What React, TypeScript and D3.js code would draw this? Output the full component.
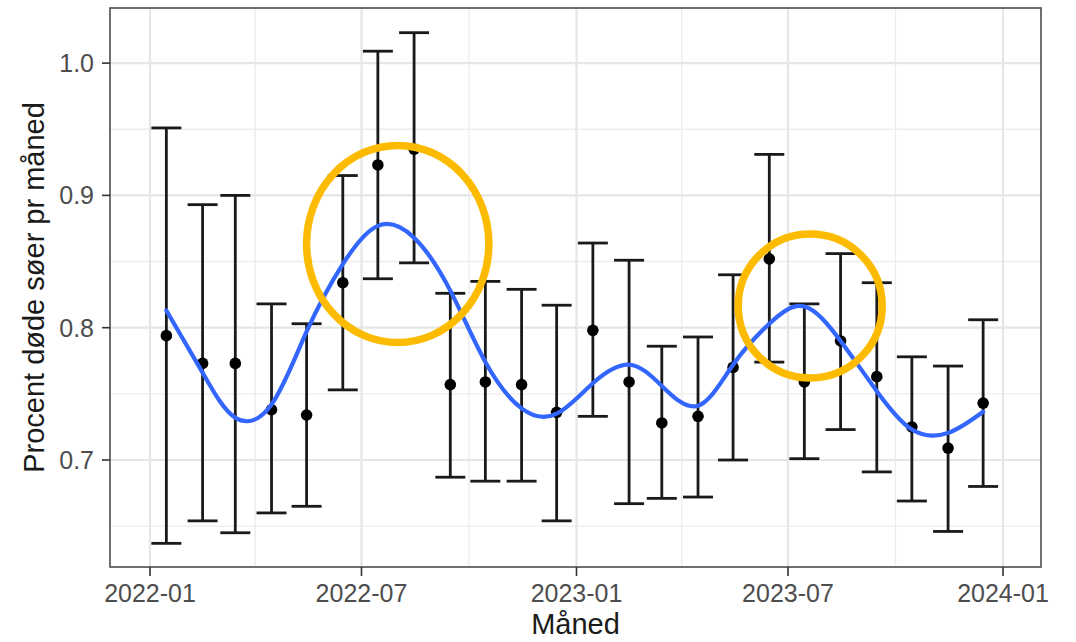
import React from "react";
import * as d3 from "d3";

// ---- Data ----
const months: string[] = [
  "2022-01-15", "2022-02-15", "2022-03-15", "2022-04-15", "2022-05-15", "2022-06-15",
  "2022-07-15", "2022-08-15", "2022-09-15", "2022-10-15", "2022-11-15", "2022-12-15",
  "2023-01-15", "2023-02-15", "2023-03-15", "2023-04-15", "2023-05-15", "2023-06-15",
  "2023-07-15", "2023-08-15", "2023-09-15", "2023-10-15", "2023-11-15", "2023-12-15",
];
const meanPct: number[] = [
  0.794, 0.773, 0.773, 0.738, 0.734, 0.834,
  0.923, 0.935, 0.757, 0.759, 0.757, 0.736,
  0.798, 0.759, 0.728, 0.733, 0.770, 0.852,
  0.759, 0.790, 0.763, 0.725, 0.709, 0.743,
];
const lowerPct: number[] = [
  0.637, 0.654, 0.645, 0.660, 0.665, 0.753,
  0.837, 0.849, 0.687, 0.684, 0.684, 0.654,
  0.733, 0.667, 0.671, 0.672, 0.700, 0.774,
  0.701, 0.723, 0.691, 0.669, 0.646, 0.680,
];
const upperPct: number[] = [
  0.951, 0.893, 0.900, 0.818, 0.803, 0.915,
  1.009, 1.023, 0.826, 0.835, 0.829, 0.817,
  0.864, 0.851, 0.786, 0.793, 0.840, 0.931,
  0.818, 0.856, 0.834, 0.778, 0.771, 0.806,
];

// Smooth trend (blue curve) at each month
const smoothValues: number[] = [
  0.813, 0.766, 0.732, 0.742, 0.797, 0.848,
  0.877, 0.868, 0.828, 0.774, 0.739, 0.735,
  0.758, 0.772, 0.756, 0.741, 0.772, 0.803,
  0.816, 0.790, 0.752, 0.723, 0.7205, 0.7365,
];

// Axis ticks
const xTickDates: string[] = ["2022-01-01", "2022-07-01", "2023-01-01", "2023-07-01", "2024-01-01"];
const xTickLabels: string[] = ["2022-01", "2022-07", "2023-01", "2023-07", "2024-01"];
const xMinorDates: string[] = ["2022-04-01", "2022-10-01", "2023-04-01", "2023-10-01"];
const yTicks: number[] = [0.7, 0.8, 0.9, 1.0];
const yTickLabels: string[] = ["0.7", "0.8", "0.9", "1.0"];
const yMinor: number[] = [0.65, 0.75, 0.85, 0.95];

// Highlight annotations (center date, center value, radius in days, radius in value)
const highlightCenters: string[] = ["2022-08-01", "2023-07-20"];
const highlightValues: number[] = [0.8633, 0.8164];
const highlightRadiusDays: number[] = [78, 61.6];
const highlightRadiusValue: number[] = [0.0745, 0.0544];

const xTitle = "Måned";
const yTitle = "Procent døde søer pr måned";

const parse = d3.utcParse("%Y-%m-%d");

export default function App() {
  const W = 1076;
  const H = 642;
  const left = 110, right = 1041, top = 8, bottom = 567;

  const d0 = parse("2022-01-01")!.getTime();
  const d1 = parse("2024-01-01")!.getTime();
  const pxPerMs = (1003 - 150) / (d1 - d0);
  const x = d3
    .scaleUtc()
    .domain([new Date(d0 - (150 - left) / pxPerMs), new Date(d0 + (right - 150) / pxPerMs)])
    .range([left, right]);

  const y = d3
    .scaleLinear()
    .domain([0.7 - (bottom - 460) / 1323, 0.7 + (460 - top) / 1323])
    .range([bottom, top]);

  const font = "'Liberation Sans', Arial, Helvetica, sans-serif";

  const line = d3
    .line<[Date, number]>()
    .x((d) => x(d[0]))
    .y((d) => y(d[1]))
    .curve(d3.curveNatural);
  const smoothPts: [Date, number][] = months.map((s, i) => [parse(s)!, smoothValues[i]]);

  const capHalf = 15;
  const dayMs = 86400000;

  return (
    <svg
      width={W}
      height={H}
      style={{ position: "absolute", left: 0, top: 0, background: "#fff" }}
      fontFamily={font}
    >
      <rect x={0} y={0} width={W} height={H} fill="#fff" />
      {/* minor grid */}
      {xMinorDates.map((s) => (
        <line key={"xm" + s} x1={x(parse(s)!)} x2={x(parse(s)!)} y1={top} y2={bottom} stroke="#ededed" strokeWidth={1.4} />
      ))}
      {yMinor.map((v) => (
        <line key={"ym" + v} x1={left} x2={right} y1={y(v)} y2={y(v)} stroke="#ededed" strokeWidth={1.4} />
      ))}
      {/* major grid */}
      {xTickDates.map((s) => (
        <line key={"xg" + s} x1={x(parse(s)!)} x2={x(parse(s)!)} y1={top} y2={bottom} stroke="#e6e6e6" strokeWidth={2.2} />
      ))}
      {yTicks.map((v) => (
        <line key={"yg" + v} x1={left} x2={right} y1={y(v)} y2={y(v)} stroke="#e6e6e6" strokeWidth={2.2} />
      ))}

      {/* error bars */}
      {months.map((s, i) => {
        const cx = x(parse(s)!);
        return (
          <g key={"eb" + s} stroke="#1a1a1a" strokeWidth={2.8}>
            <line x1={cx} x2={cx} y1={y(lowerPct[i])} y2={y(upperPct[i])} />
            <line x1={cx - capHalf} x2={cx + capHalf} y1={y(lowerPct[i])} y2={y(lowerPct[i])} />
            <line x1={cx - capHalf} x2={cx + capHalf} y1={y(upperPct[i])} y2={y(upperPct[i])} />
          </g>
        );
      })}
      {/* points */}
      {months.map((s, i) => (
        <circle key={"pt" + s} cx={x(parse(s)!)} cy={y(meanPct[i])} r={5.8} fill="#000" />
      ))}

      {/* smooth line */}
      <path d={line(smoothPts) || ""} fill="none" stroke="#3366FF" strokeWidth={4.2} strokeLinecap="round" />

      {/* highlight ellipses */}
      {highlightCenters.map((s, i) => {
        const c = parse(s)!;
        const cx = x(c);
        const rx = x(new Date(c.getTime() + highlightRadiusDays[i] * dayMs)) - cx;
        const cy = y(highlightValues[i]);
        const ry = y(highlightValues[i] - highlightRadiusValue[i]) - cy;
        return <ellipse key={"hl" + s} cx={cx} cy={cy} rx={rx} ry={ry} fill="none" stroke="#FDBB00" strokeWidth={7.5} />;
      })}

      {/* panel border */}
      <rect x={left} y={top} width={right - left} height={bottom - top} fill="none" stroke="#4d4d4d" strokeWidth={1.6} />

      {/* x axis */}
      {xTickDates.map((s, i) => {
        const px = x(parse(s)!);
        return (
          <g key={"xt" + s}>
            <line x1={px} x2={px} y1={bottom} y2={bottom + 9} stroke="#333" strokeWidth={1.6} />
            <text x={px} y={602} textAnchor="middle" fontSize={25} fill="#4d4d4d">
              {xTickLabels[i]}
            </text>
          </g>
        );
      })}
      {/* y axis */}
      {yTicks.map((v, i) => (
        <g key={"yt" + v}>
          <line x1={left - 8} x2={left} y1={y(v)} y2={y(v)} stroke="#333" strokeWidth={1.6} />
          <text x={94} y={y(v)} dy="0.36em" textAnchor="end" fontSize={25} fill="#4d4d4d">
            {yTickLabels[i]}
          </text>
        </g>
      ))}

      {/* titles */}
      <text x={(left + right) / 2} y={634} textAnchor="middle" fontSize={29} fill="#1a1a1a">
        {xTitle}
      </text>
      <text transform={`translate(44, ${(top + bottom) / 2}) rotate(-90)`} textAnchor="middle" fontSize={29} fill="#1a1a1a">
        {yTitle}
      </text>
    </svg>
  );
}
